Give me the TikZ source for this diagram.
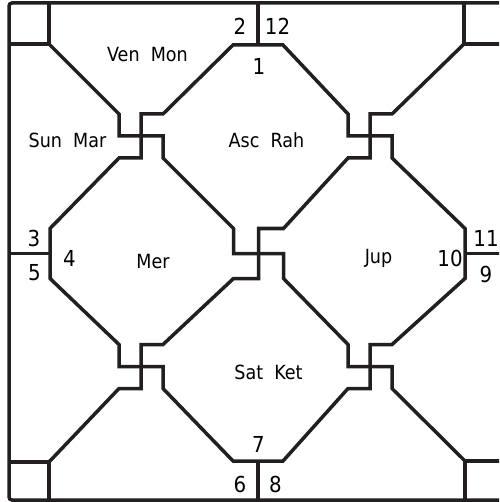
\documentclass[tikz,border=0pt]{standalone}
\usepackage{fontspec}
\setmainfont{DejaVu Sans Condensed}
\definecolor{ink}{RGB}{35,31,32}
\newcommand\pinwheel[4]{%
  \coordinate (#1ul) at ({#2-#4},{#3-#4});
  \coordinate (#1u)  at ({#2},{#3-#4});
  \coordinate (#1ur) at ({#2+#4},{#3-#4});
  \coordinate (#1l)  at ({#2-#4},{#3});
  \coordinate (#1r)  at ({#2+#4},{#3});
  \coordinate (#1dl) at ({#2-#4},{#3+#4});
  \coordinate (#1d)  at ({#2},{#3+#4});
  \coordinate (#1dr) at ({#2+#4},{#3+#4});}
\begin{document}
\begin{tikzpicture}[x=1pt,y=-1pt,
  chartline/.style={draw=ink,line width=3.5pt,line join=miter},
  num/.style={anchor=base,inner sep=0pt,font=\fontsize{22}{24}\selectfont},
  planet/.style={anchor=base,inner sep=0pt,font=\fontsize{19.5}{21}\selectfont}]
\useasboundingbox (0,0) rectangle (499,502);
\clip (0,0) rectangle (499,502);
% crossings
\pinwheel{TL}{141}{136}{22}
\pinwheel{TR}{370}{136}{22}
\pinwheel{C}{258.5}{253.5}{25}
\pinwheel{BL}{141}{366.5}{22}
\pinwheel{BR}{370}{366.5}{22}
% frame
\coordinate (F1) at (9,3);
\coordinate (F2) at (510,500);
\draw[chartline,rounded corners=3pt] (F1) rectangle (F2);
% corner boxes
\coordinate (kTL) at (49,44);
\coordinate (kTR) at (464,44);
\coordinate (kBL) at (49,462);
\coordinate (kBR) at (465,461);
\draw[chartline] (9,44) -- (kTL) -- (49,3);
\draw[chartline] (464,3) -- (kTR) -- (510,44);
\draw[chartline] (9,462) -- (kBL) -- (49,500);
\draw[chartline] (465,500) -- (kBR) -- (510,461);
% edge T pieces
\coordinate (tTl) at (233,45); \coordinate (tTr) at (283,45);
\coordinate (tLu) at (50,228.5); \coordinate (tLd) at (50,278.5);
\coordinate (tRu) at (465,228.5); \coordinate (tRd) at (465,278.5);
\coordinate (tBl) at (233,461); \coordinate (tBr) at (283,461);
\draw[chartline] (258,3) -- (258,45);
\draw[chartline] (9,253.5) -- (50,253.5);
\draw[chartline] (465,253.5) -- (510,253.5);
\draw[chartline] (258,461) -- (258,500);
% main diagonals
\draw[chartline] (kTL) -- (TLul) -- (TLl) -- (TLr) -- (TLdr) -- (Cul) -- (Cl) -- (Cr) -- (Cdr)
  -- (BRul) -- (BRl) -- (BRr) -- (BRdr) -- (kBR);
\draw[chartline] (kTR) -- (TRur) -- (TRu) -- (TRd) -- (TRdl) -- (Cur) -- (Cu) -- (Cd) -- (Cdl)
  -- (BLur) -- (BLu) -- (BLd) -- (BLdl) -- (kBL);
% inner diamond
\draw[chartline] (tTl) -- (TLur) -- (TLu) -- (TLd) -- (TLdl) -- (tLu) -- (tLd)
  -- (BLul) -- (BLl) -- (BLr) -- (BLdr) -- (tBl) -- (tBr)
  -- (BRdl) -- (BRd) -- (BRu) -- (BRur) -- (tRd) -- (tRu)
  -- (TRdr) -- (TRr) -- (TRl) -- (TRul) -- (tTr) -- cycle;
% planets
\node[planet] (p12) at (147.5,62) {Ven\ \ Mon};
\node[planet] (p3) at (67.5,148) {Sun\ \ Mar};
\node[planet] (p1) at (266.5,148) {Asc\ \ Rah};
\node[planet] (p4) at (153,268) {Mer};
\node[planet] (p10) at (378.5,263) {Jup};
\node[planet] (p7) at (268.5,379) {Sat\ \ Ket};
% house numbers
\node[num] (n2) at (240,35) {2};
\node[num] (n12) at (277.5,35) {12};
\node[num] (n1) at (259,75) {1};
\node[num] (n3) at (34,246) {3};
\node[num] (n5) at (34.5,280) {5};
\node[num] (n4) at (69.5,266) {4};
\node[num] (n10) at (450,266) {10};
\node[num] (n11) at (486,246) {11};
\node[num] (n9) at (486,282) {9};
\node[num] (n7) at (258.5,452) {7};
\node[num] (n6) at (240,492) {6};
\node[num] (n8) at (275.5,492) {8};
\end{tikzpicture}
\end{document}
